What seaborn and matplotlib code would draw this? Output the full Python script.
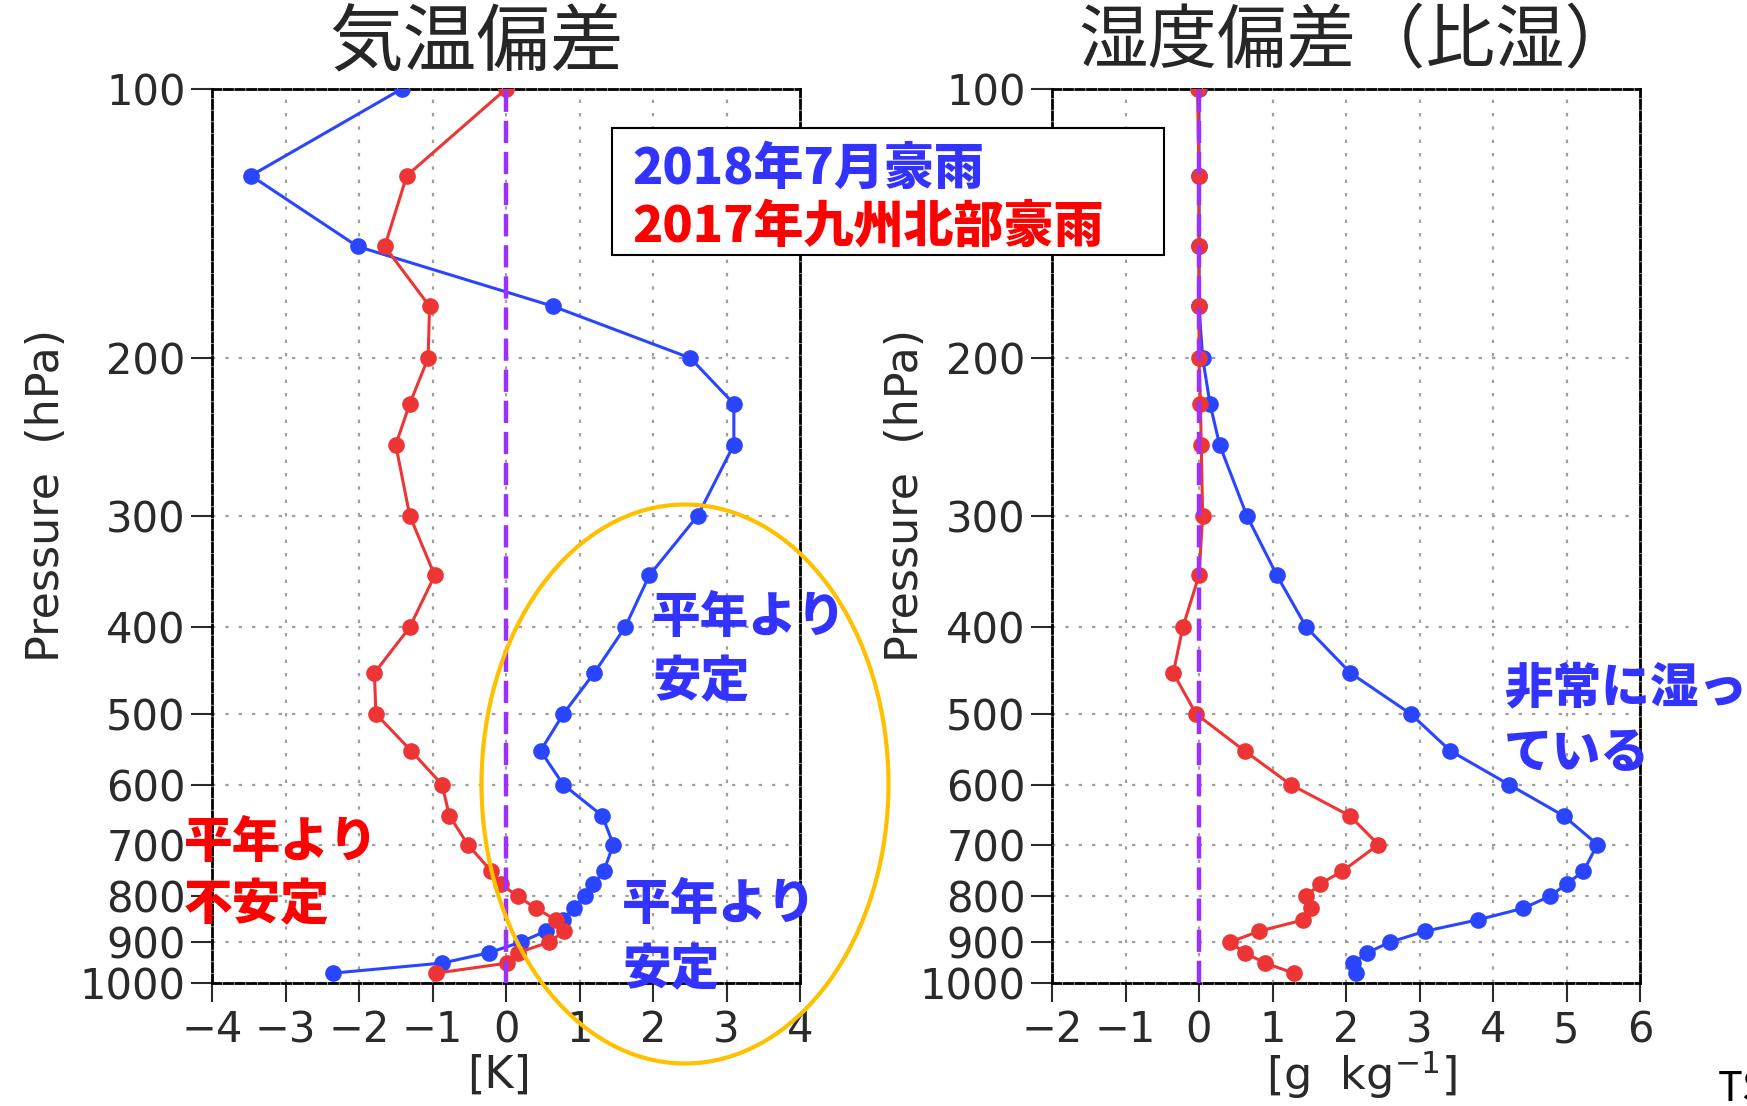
import matplotlib
matplotlib.use("Agg")
import matplotlib.pyplot as plt
from matplotlib import font_manager
from matplotlib.patches import Ellipse, Rectangle
import seaborn as sns

# pressure levels (hPa), top to bottom
levels = [100, 125, 150, 175, 200, 225, 250, 300, 350, 400, 450, 500, 550,
          600, 650, 700, 750, 775, 800, 825, 850, 875, 900, 925, 950, 975]

# temperature anomaly [K]
temp_2018 = [-1.42, -3.47, -2.02, 0.64, 2.51, 3.10, 3.10, 2.61, 1.95, 1.62,
             1.20, 0.78, 0.47, 0.78, 1.31, 1.46, 1.33, 1.19, 1.07, 0.92,
             0.77, 0.54, 0.20, -0.23, -0.87, -2.36]
temp_2017 = [0.0, -1.35, -1.65, -1.04, -1.06, -1.31, -1.50, -1.31, -0.97, -1.31,
             -1.79, -1.77, -1.29, -0.87, -0.77, -0.52, -0.20, -0.07, 0.16, 0.41,
             0.68, 0.79, 0.59, 0.16, 0.02, -0.95]

# specific humidity anomaly [g/kg]
hum_2018 = [0.0, 0.0, 0.0, 0.0, 0.05, 0.15, 0.28, 0.65, 1.06, 1.46,
            2.06, 2.88, 3.42, 4.22, 4.96, 5.42, 5.23, 5.00, 4.77, 4.41,
            3.79, 3.08, 2.60, 2.29, 2.10, 2.13]
hum_2017 = [-0.02, 0.0, 0.0, 0.0, 0.0, 0.02, 0.03, 0.05, 0.0, -0.22,
            -0.35, -0.04, 0.62, 1.25, 2.05, 2.44, 1.95, 1.64, 1.46, 1.52,
            1.42, 0.82, 0.42, 0.62, 0.90, 1.29]

y_ticks = [100, 200, 300, 400, 500, 600, 700, 800, 900, 1000]
temp_ticks = [-4, -3, -2, -1, 0, 1, 2, 3, 4]
hum_ticks = [-2, -1, 0, 1, 2, 3, 4, 5, 6]

BLUE = "#2a45ff"
RED = "#ee3535"
TXT_BLUE = "#3333ff"
TXT_RED = "#ff0000"
PURPLE = "#9b30ff"

sns.set_theme(style="white")
names = {f.name for f in font_manager.fontManager.ttflist}
tick_font = "Liberation Sans Narrow" if "Liberation Sans Narrow" in names else "DejaVu Sans"
plt.rcParams["font.family"] = [tick_font, "DejaVu Sans", "Noto Sans CJK JP"]
plt.rcParams["mathtext.default"] = "regular"
CJK = ["Noto Sans CJK JP", "DejaVu Sans"]

W, H = 1747, 1106
fig = plt.figure(figsize=(W / 100, H / 100), dpi=100)


def fx(x):
    return x / W


def fy(y):
    return 1 - y / H


def setup(ax, xticks):
    ax.set_yscale("log")
    ax.set_ylim(1000, 100)
    ax.set_xlim(xticks[0], xticks[-1])
    ax.set_yticks(y_ticks)
    ax.set_yticklabels([str(v) for v in y_ticks])
    ax.yaxis.set_minor_locator(matplotlib.ticker.NullLocator())
    ax.set_xticks(xticks)
    ax.tick_params(axis="both", direction="out", labelsize=30, colors="#2a2a2a",
                   width=1.5, left=True, bottom=True)
    ax.tick_params(axis="y", length=15, pad=4)
    ax.tick_params(axis="x", length=14, pad=5)
    ax.grid(True, color="#a0a0a0", linestyle=(0, (1.5, 4.5)), linewidth=1.6)
    for sp in ax.spines.values():
        sp.set_visible(True)
        sp.set_color("black")
        sp.set_linewidth(2)
        sp.set_linestyle((0, (3, 1.2)))
    ax.set_xlabel("")
    ax.set_ylabel("")
    ax.axvline(0, color=PURPLE, linestyle=(0, (5, 2)), linewidth=3.2, zorder=5)


ax1 = fig.add_axes([fx(212), fy(983), fx(588), 894 / H])
ax2 = fig.add_axes([fx(1052), fy(983), fx(588), 894 / H])

for ax, b, r in [(ax1, temp_2018, temp_2017), (ax2, hum_2018, hum_2017)]:
    sns.lineplot(x=b, y=levels, sort=False, estimator=None, color=BLUE, marker="o",
                 markersize=12, markeredgewidth=0, linewidth=2.2, ax=ax, zorder=3)
    sns.lineplot(x=r, y=levels, sort=False, estimator=None, color=RED, marker="o",
                 markersize=12, markeredgewidth=0, linewidth=2.2, ax=ax, zorder=4)

setup(ax1, temp_ticks)
setup(ax2, hum_ticks)

# titles
fig.text(fx(477), fy(45), "気温偏差", family=CJK, fontsize=53, ha="center", va="center")
fig.text(fx(1356), fy(43), "湿度偏差（比湿）", family=CJK, fontsize=50, ha="center", va="center")

# axis labels
for x in (47, 905):
    fig.text(fx(x), fy(496), "Pressure  (hPa)", fontsize=32, rotation=90,
             ha="center", va="center", color="#2a2a2a")
fig.text(fx(499), fy(1075), "[K]", fontsize=32, ha="center", va="center", color="#2a2a2a")
fig.text(fx(1361), fy(1075), "[g  kg$^{-1}$]", fontsize=32, ha="center", va="center",
         color="#2a2a2a")

# legend box
fig.add_artist(Rectangle((fx(612), fy(255)), 552 / W, 127 / H, transform=fig.transFigure,
                         facecolor="white", edgecolor="black", linewidth=1.5, zorder=6))
fig.text(fx(632), fy(169), "2018年7月豪雨", family=CJK, fontsize=36, fontweight="heavy",
         color=TXT_BLUE, ha="left", va="center", zorder=7)
fig.text(fx(632), fy(227), "2017年九州北部豪雨", family=CJK, fontsize=36, fontweight="heavy",
         color=TXT_RED, ha="left", va="center", zorder=7)

# annotations
notes = [
    (652, 618, "平年より", TXT_BLUE),
    (652, 682, "安定", TXT_BLUE),
    (622, 905, "平年より", TXT_BLUE),
    (622, 970, "安定", TXT_BLUE),
    (184, 843, "平年より", TXT_RED),
    (184, 905, "不安定", TXT_RED),
    (1504, 688, "非常に湿っ", TXT_BLUE),
    (1504, 754, "ている", TXT_BLUE),
]
for x, y, s, c in notes:
    fig.text(fx(x), fy(y), s, family=CJK, fontsize=35, fontweight="heavy", color=c,
             ha="left", va="center", zorder=7)

fig.add_artist(Ellipse((fx(685), fy(784)), 407 / W, 559 / H, transform=fig.transFigure,
                       fill=False, edgecolor="#ffc000", linewidth=3, zorder=8))

# partial label at the bottom-right corner, cut by the edge as in the source slide
fig.text(fx(1718), fy(1070), "TS", family=CJK, fontsize=30, color="black",
         ha="left", va="top")

fig.savefig("out.png", dpi=100)
